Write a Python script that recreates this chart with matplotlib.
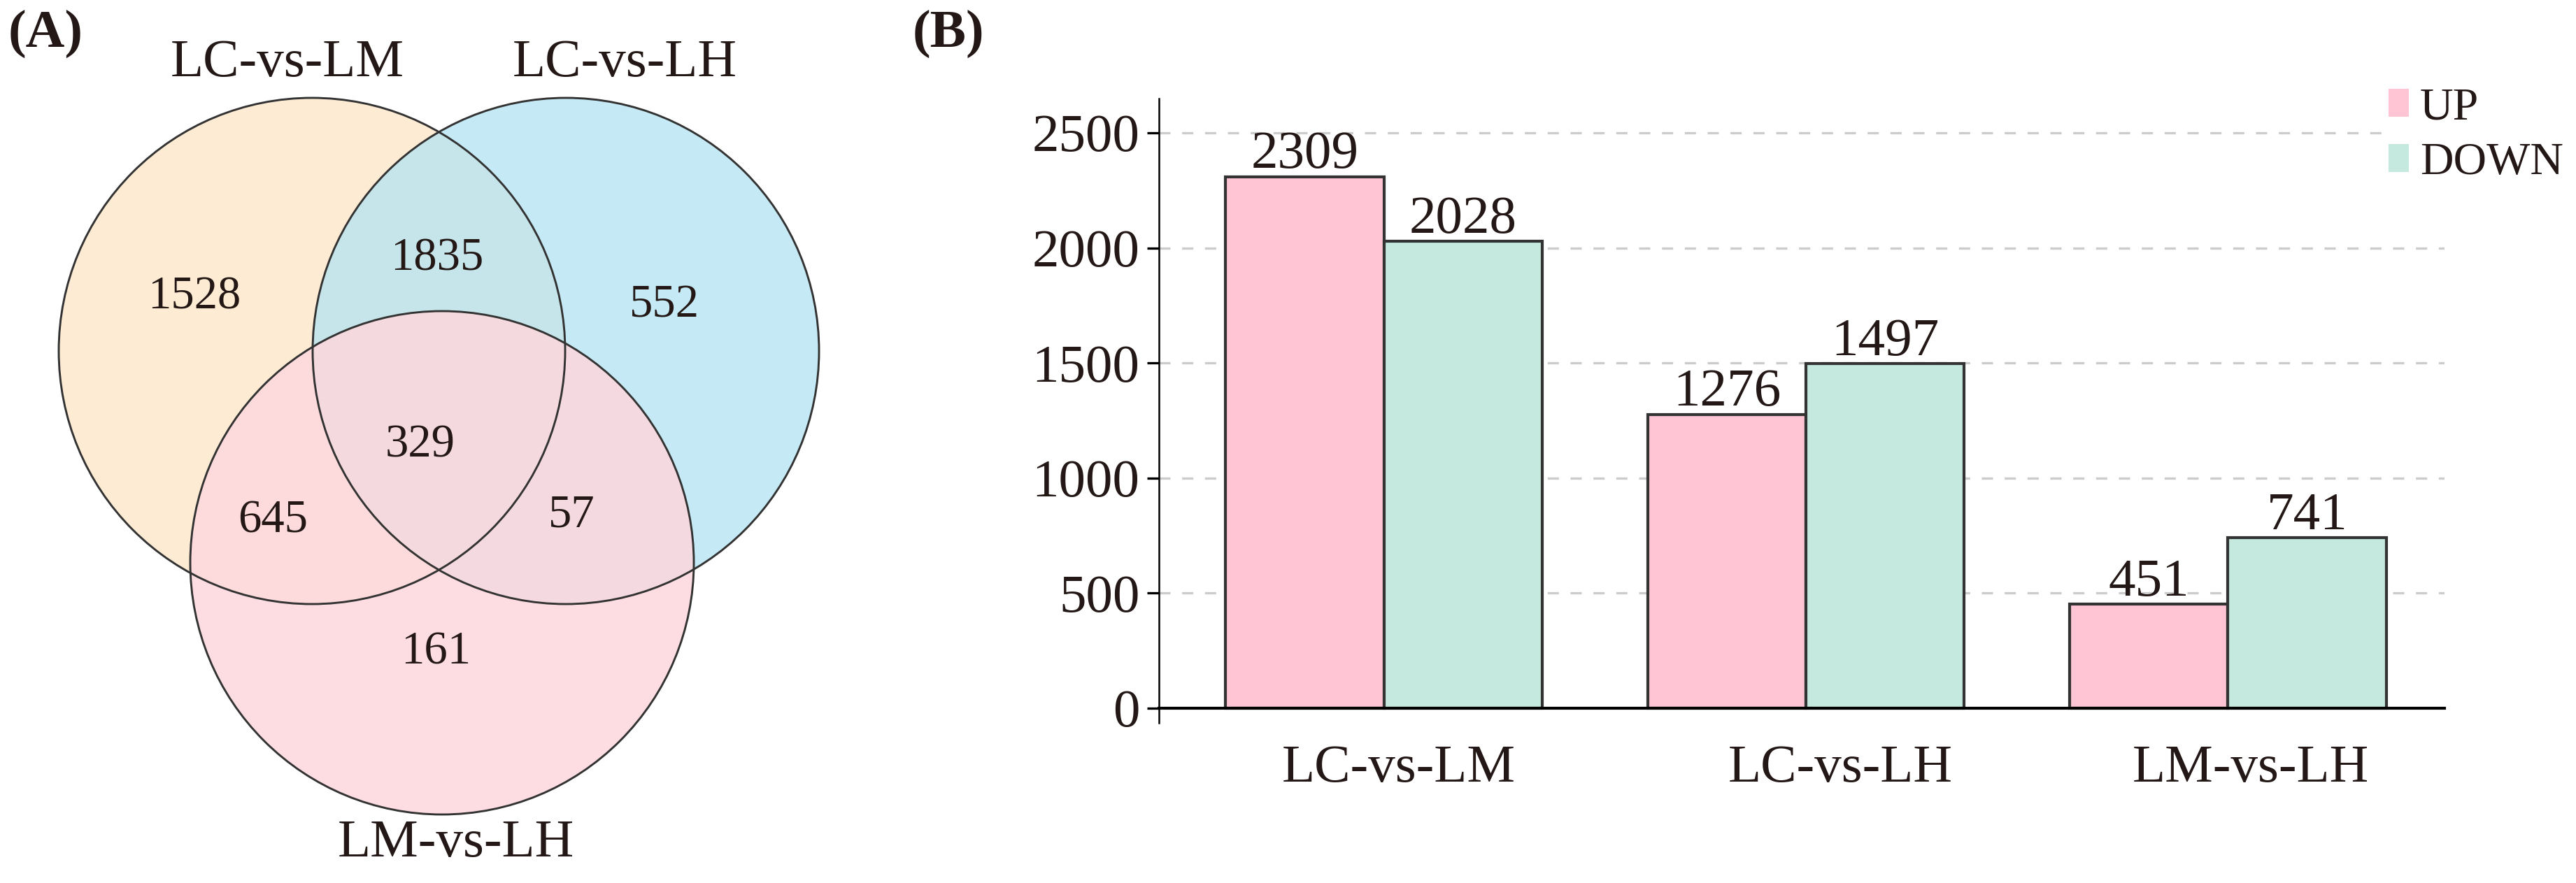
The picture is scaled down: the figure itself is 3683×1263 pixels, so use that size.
import matplotlib
matplotlib.use("Agg")
import matplotlib.pyplot as plt
import matplotlib.patches as mpatches
import matplotlib.transforms as mtransforms
import numpy as np

plt.rcParams["font.family"] = ["Liberation Serif", "DejaVu Serif"]
INK = "#231815"

# ---------------------------------------------------------------------------
# DATA
# ---------------------------------------------------------------------------
venn_sets = ["LC-vs-LM", "LC-vs-LH", "LM-vs-LH"]
# region counts: A only, B only, C only, AB, AC, BC, ABC
venn_regions = ["A", "B", "C", "AB", "AC", "BC", "ABC"]
venn_counts = [1528, 552, 161, 1835, 645, 57, 329]

groups = ["LC-vs-LM", "LC-vs-LH", "LM-vs-LH"]
up = [2309, 1276, 451]
down = [2028, 1497, 741]
yticks = [0, 500, 1000, 1500, 2000, 2500]

# ---------------------------------------------------------------------------
# LAYOUT / STYLE (venn drawn in pixel space of the left panel)
# ---------------------------------------------------------------------------
W, H, DPI = 3683, 1263, 300
circles = {"A": (446, 502, 362), "B": (809, 502, 362), "C": (632, 805, 360)}
circle_fc = {"A": "#FEEBD3", "B": "#B2E3F2", "C": "#FDD8DD"}
circle_alpha = {"A": 1.0, "B": 0.75, "C": 0.85}
set_label_pos = [(411, 90), (893, 90), (652, 1206)]
region_pos = {"A": (278, 425), "B": (950, 437), "C": (623, 933),
              "AB": (625, 370), "AC": (390, 745), "BC": (817, 737),
              "ABC": (601, 637)}
UP_C, DOWN_C = "#FFC5D5", "#C5E9DF"
xlabel_nudge_pt = [5, 11.8, 7.7]

fig = plt.figure(figsize=(W / DPI, H / DPI), dpi=DPI)
fig.patch.set_facecolor("white")

# ----------------------------- (A) Venn ------------------------------------
axv = fig.add_axes([0, 0, 1250 / W, 1])
axv.set_xlim(0, 1250)
axv.set_ylim(H, 0)
axv.axis("off")
for k in ["A", "B", "C"]:
    cx, cy, r = circles[k]
    axv.add_patch(mpatches.Circle((cx, cy), r, facecolor=circle_fc[k],
                                  alpha=circle_alpha[k], edgecolor="none"))
for k in ["A", "B", "C"]:
    cx, cy, r = circles[k]
    axv.add_patch(mpatches.Circle((cx, cy), r, facecolor="none",
                                  edgecolor="#333333", lw=0.7))
for name, (x, y) in zip(venn_sets, set_label_pos):
    axv.text(x, y, name, ha="center", va="center", fontsize=18.5, color=INK)
for reg, n in zip(venn_regions, venn_counts):
    x, y = region_pos[reg]
    axv.text(x, y, str(n), ha="center", va="center", fontsize=16, color=INK)

fig.text(65 / W, 1 - 48 / H, "(A)", ha="center", va="center",
         fontsize=18.5, fontweight="bold", color=INK)
fig.text(1356 / W, 1 - 48 / H, "(B)", ha="center", va="center",
         fontsize=18.5, fontweight="bold", color=INK)

# ----------------------------- (B) bars ------------------------------------
ax = fig.add_axes([1657 / W, 1 - 1034 / H, (3495 - 1657) / W, (1034 - 140.6) / H])
x = np.arange(len(groups))
bw = 0.375
ax.bar(x - bw / 2, up, bw, color=UP_C, edgecolor="#333333", lw=1.0,
       label="UP", zorder=3)
ax.bar(x + bw / 2, down, bw, color=DOWN_C, edgecolor="#333333", lw=1.0,
       label="DOWN", zorder=3)
for xi, v in zip(x - bw / 2, up):
    ax.annotate(str(v), (xi, v), xytext=(0, 3), textcoords="offset points",
                ha="center", va="baseline", fontsize=18.5, color=INK, zorder=4)
for xi, v in zip(x + bw / 2, down):
    ax.annotate(str(v), (xi, v), xytext=(0, 3), textcoords="offset points",
                ha="center", va="baseline", fontsize=18.5, color=INK, zorder=4)

ax.set_xlim(-0.533, 2.513)
ax.set_ylim(-64, 2650)
ax.set_yticks(yticks)
ax.set_yticklabels([str(t) for t in yticks])
for t in yticks[1:]:
    ax.axhline(t, color="#CCCCCC", lw=0.8, linestyle=(0, (4.8, 5)), zorder=1)

ax.spines["top"].set_visible(False)
ax.spines["right"].set_visible(False)
ax.spines["left"].set_linewidth(0.6)
ax.spines["bottom"].set_position(("data", 0))
ax.spines["bottom"].set_linewidth(1.0)
ax.spines["bottom"].set_zorder(5)
ax.tick_params(axis="y", direction="out", length=4, width=0.8, pad=2.6,
               labelsize=18.5, labelcolor=INK)
ax.set_xticks(x)
ax.set_xticklabels(groups)
ax.tick_params(axis="x", length=0, pad=12.5, labelsize=18.5, labelcolor=INK)
for lab, dx in zip(ax.get_xticklabels(), xlabel_nudge_pt):
    lab.set_transform(lab.get_transform() +
                      mtransforms.ScaledTranslation(dx / 72, 0, fig.dpi_scale_trans))

leg = ax.legend(loc="upper left", bbox_to_anchor=(3408 / W, 1 - 118 / H),
                bbox_transform=fig.transFigure, frameon=True, fontsize=15.8,
                handlelength=0.44, handleheight=0.56, handletextpad=0.25,
                labelspacing=0.3, borderpad=0.1, borderaxespad=0)
leg.get_frame().set_edgecolor("none")
leg.get_frame().set_facecolor("white")
leg.get_frame().set_alpha(1)
for t in leg.get_texts():
    t.set_color(INK)
for p in leg.get_patches():
    p.set_edgecolor("none")

fig.savefig("out.png", dpi=DPI, facecolor="white")
